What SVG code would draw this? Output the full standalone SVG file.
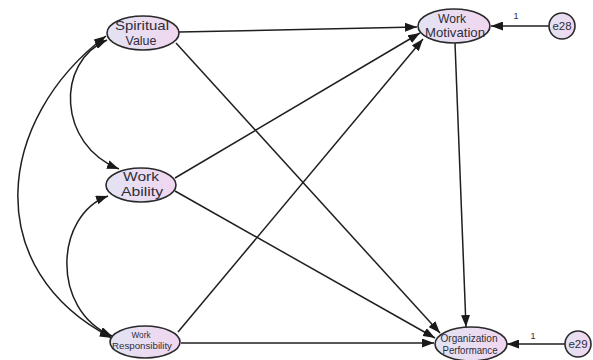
<svg xmlns="http://www.w3.org/2000/svg" width="593" height="360" viewBox="0 0 593 360">
<defs>
<linearGradient id="g" x1="0" y1="0" x2="1" y2="0">
<stop offset="0" stop-color="#e2e3f3"/>
<stop offset="1" stop-color="#f1d6f0"/>
</linearGradient>
<marker id="ah" markerUnits="userSpaceOnUse" markerWidth="12" markerHeight="9" refX="12" refY="4.5" orient="auto-start-reverse">
<path d="M0,0 L12,4.5 L0,9 z" fill="#1a1a1a"/>
</marker>
<style>
.n{fill:url(#g);stroke:#2a2a2a;stroke-width:1.6}
.t{font-family:"Liberation Sans",Arial,sans-serif;fill:#2e2e3a;text-anchor:middle}
.c{fill:none;stroke:#1f1f1f;stroke-width:1.5}
.a{marker-end:url(#ah)}
.d{marker-start:url(#ah);marker-end:url(#ah)}
</style>
</defs>
<rect width="593" height="360" fill="#ffffff"/>
<g id="connectors">
<path class="c a" d="M179,32 L417,27"/>
<path class="c a" d="M176,43 L440,333"/>
<path class="c a" d="M175,178 L420,33"/>
<path class="c a" d="M175,191 L435,338"/>
<path class="c a" d="M178,332 L423,39"/>
<path class="c a" d="M181,343 L434,343"/>
<path class="c a" d="M455,43 L466,327"/>
<path class="c a" d="M549,26 L491,26"/>
<path class="c a" d="M565,344 L507,344"/>
<path class="c d" d="M106,36 C-5,120 -20,270 112,338"/>
<path class="c d" d="M107,40 C55,62 58,145 119,169"/>
<path class="c d" d="M108,196 C55,215 50,310 112,336"/>
<text class="t" x="516" y="19" font-size="9">1</text>
<text class="t" x="533" y="339" font-size="9">1</text>
</g>
<g id="spiritual-value">
<ellipse class="n" cx="143" cy="33" rx="36" ry="17"/>
<text class="t" x="142" y="30" font-size="13" textLength="54" lengthAdjust="spacingAndGlyphs">Spiritual</text>
<text class="t" x="141" y="45" font-size="13" textLength="31" lengthAdjust="spacingAndGlyphs">Value</text>
</g>
<g id="work-ability">
<ellipse class="n" cx="141" cy="185" rx="35" ry="17"/>
<text class="t" x="141" y="181" font-size="12.5" textLength="36" lengthAdjust="spacingAndGlyphs">Work</text>
<text class="t" x="142" y="196" font-size="12.5" textLength="42" lengthAdjust="spacingAndGlyphs">Ability</text>
</g>
<g id="work-responsibility">
<ellipse class="n" cx="145" cy="342" rx="35" ry="16"/>
<text class="t" x="141" y="338" font-size="9" textLength="19" lengthAdjust="spacingAndGlyphs">Work</text>
<text class="t" x="142" y="349" font-size="9.5" textLength="60" lengthAdjust="spacingAndGlyphs">Responsibility</text>
</g>
<g id="work-motivation">
<ellipse class="n" cx="454" cy="26" rx="36" ry="17"/>
<text class="t" x="452" y="23" font-size="12.5" textLength="28" lengthAdjust="spacingAndGlyphs">Work</text>
<text class="t" x="455" y="37" font-size="13" textLength="60" lengthAdjust="spacingAndGlyphs">Motivation</text>
</g>
<g id="organization-performance">
<ellipse class="n" cx="471" cy="344" rx="36" ry="17"/>
<text class="t" x="469" y="342" font-size="10" textLength="57" lengthAdjust="spacingAndGlyphs">Organization</text>
<text class="t" x="470" y="354" font-size="10" textLength="55" lengthAdjust="spacingAndGlyphs">Performance</text>
</g>
<g id="e28">
<circle class="n" cx="562" cy="26" r="13"/>
<text class="t" x="562" y="30" font-size="11.5">e28</text>
</g>
<g id="e29">
<circle class="n" cx="578" cy="344" r="13"/>
<text class="t" x="578" y="348" font-size="11.5">e29</text>
</g>
</svg>
